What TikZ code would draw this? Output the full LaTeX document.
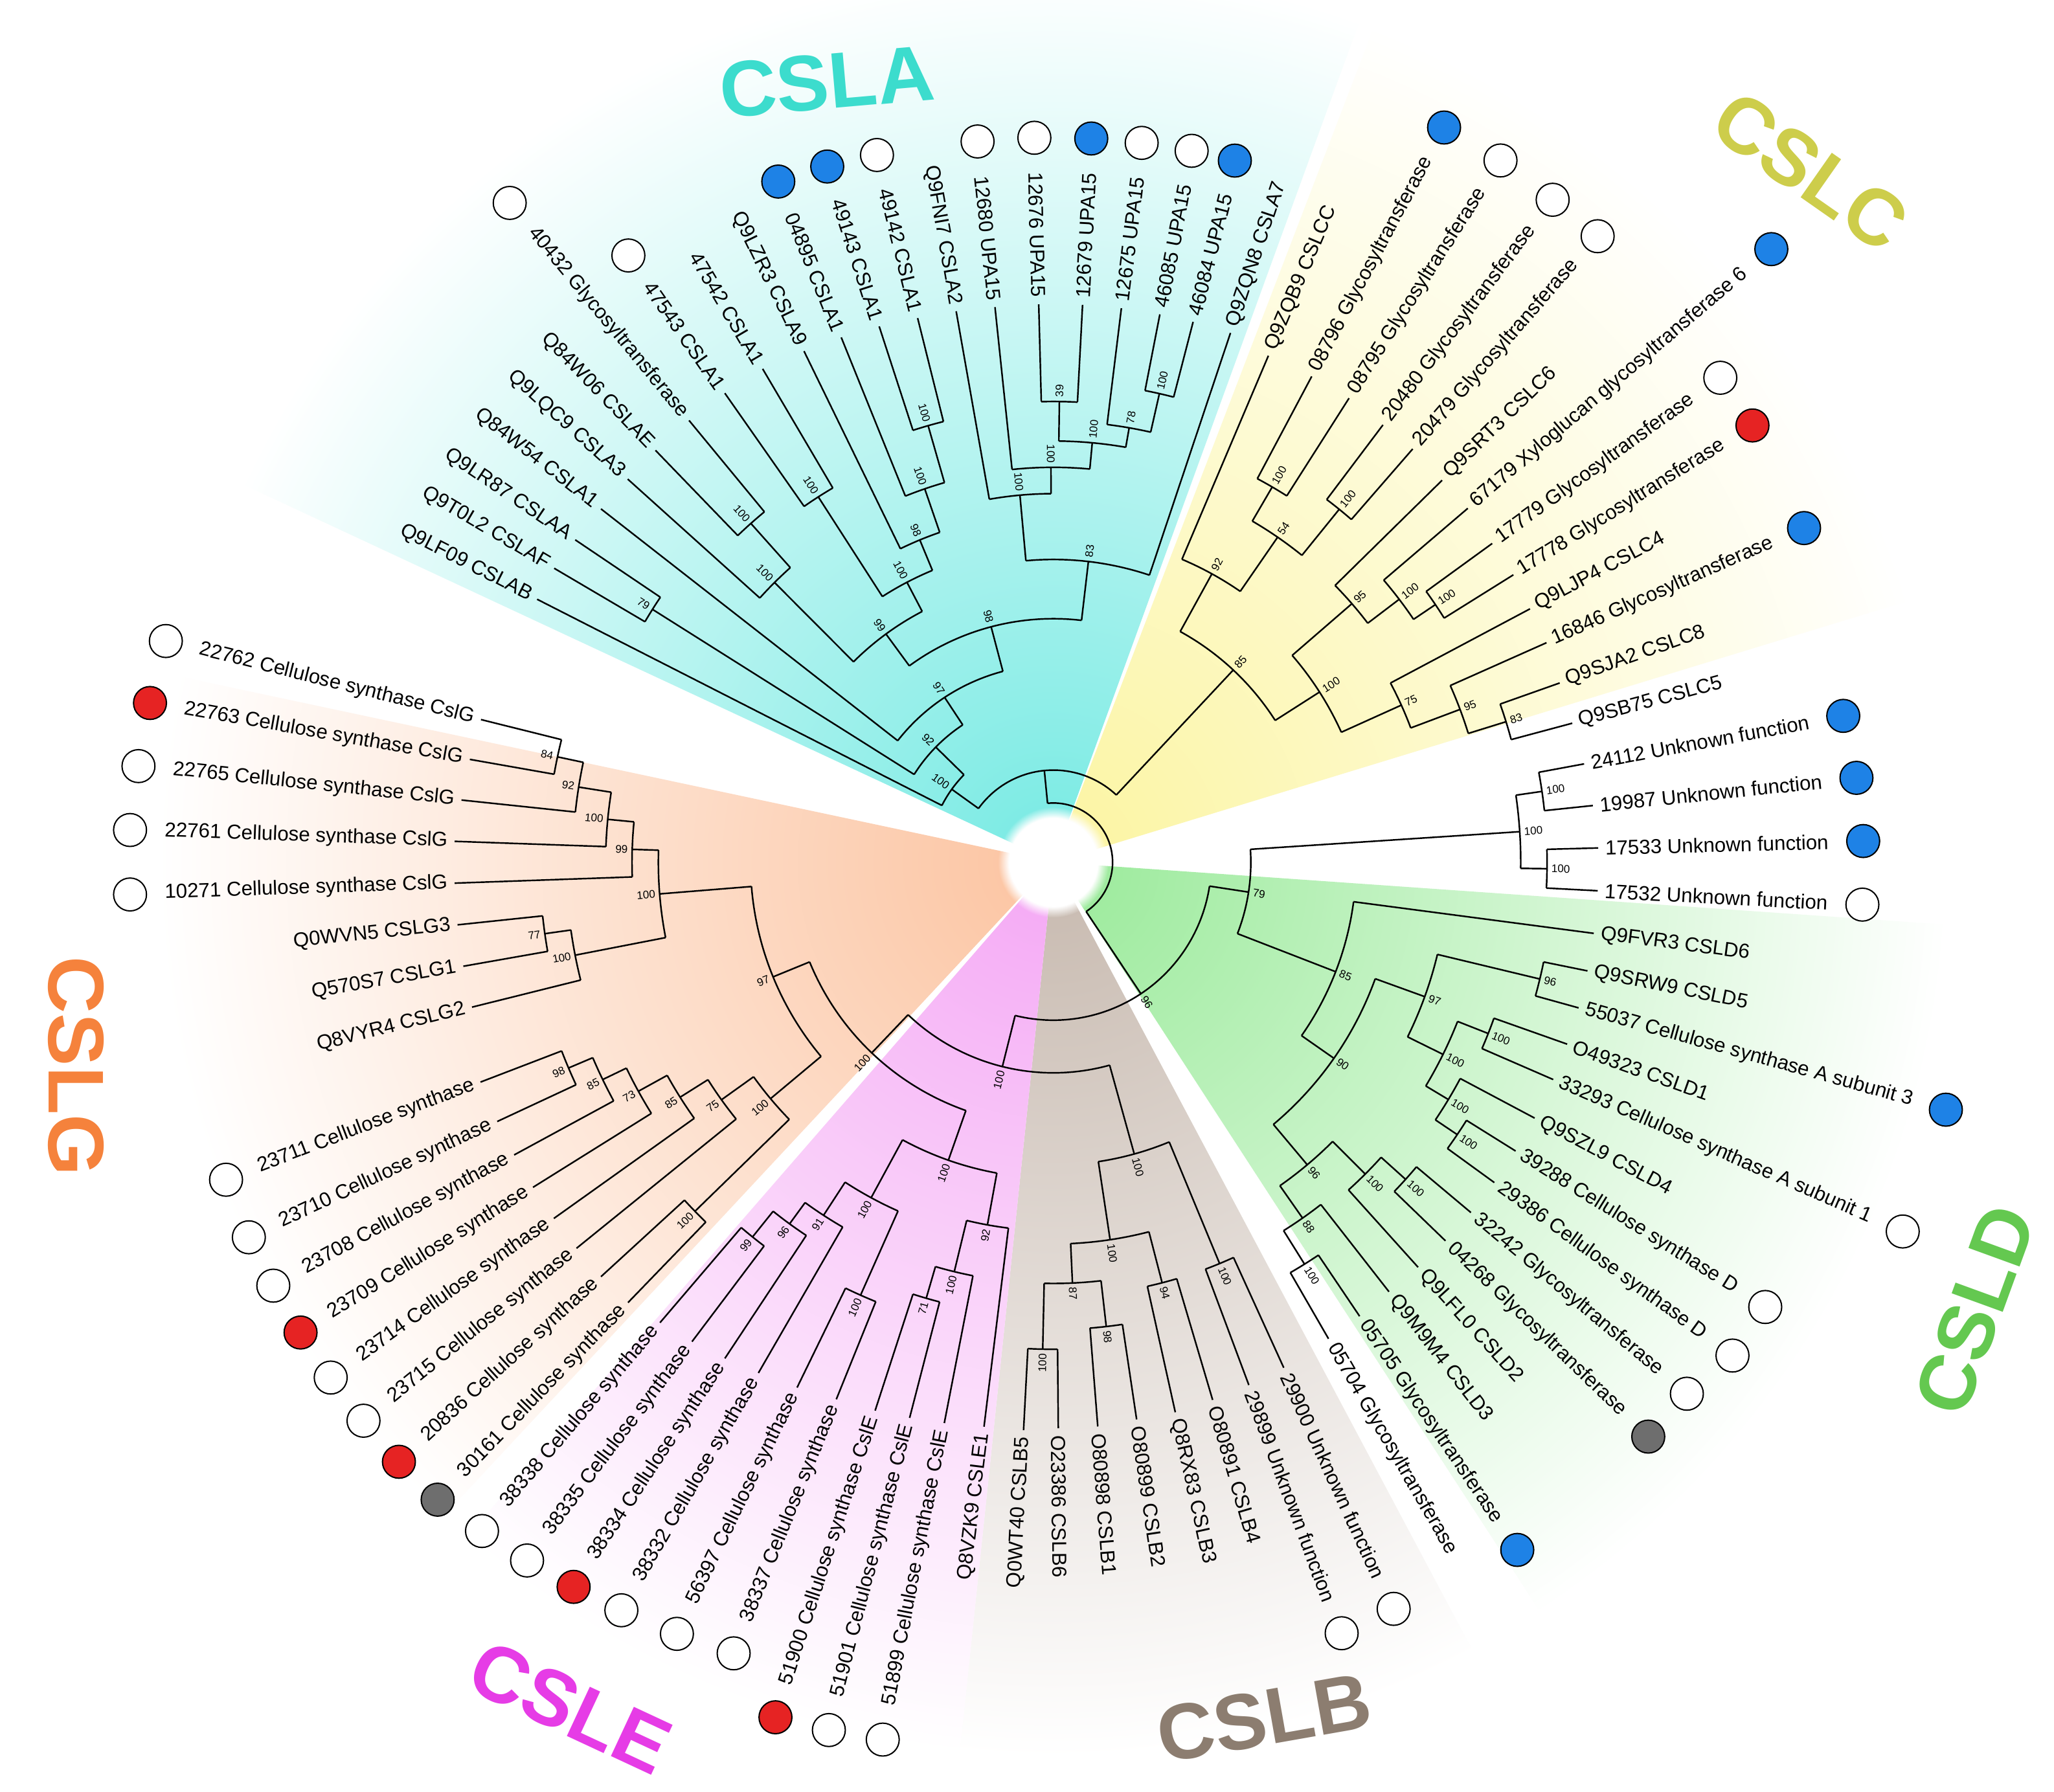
\documentclass[tikz,border=0pt]{standalone}
\usepackage{fontspec}
\setmainfont{Liberation Sans}
\usetikzlibrary{calc,fadings}
\definecolor{cA}{RGB}{60,225,215}
\definecolor{cC}{RGB}{250,240,120}
\definecolor{cD}{RGB}{110,225,110}
\definecolor{cB}{RGB}{175,155,140}
\definecolor{cE}{RGB}{240,130,240}
\definecolor{cG}{RGB}{250,170,120}
\definecolor{tA}{RGB}{60,220,205}
\definecolor{tC}{RGB}{205,205,75}
\definecolor{tD}{RGB}{100,200,80}
\definecolor{tB}{RGB}{140,125,112}
\definecolor{tE}{RGB}{230,60,230}
\definecolor{tG}{RGB}{245,130,60}
\definecolor{mb}{RGB}{30,130,230}
\definecolor{mr}{RGB}{230,35,35}
\definecolor{mg}{RGB}{110,110,110}
\tikzset{br/.style={line width=0.6pt},
 lab/.style={font=\fontsize{7.7}{9}\selectfont, inner sep=1pt},
 bs/.style={font=\fontsize{4.2}{5}\selectfont, inner sep=0.5pt},
 mk/.style={circle, draw=black, line width=0.5pt, minimum size=12.5pt, inner sep=0pt},
 ttl/.style={font=\fontsize{30}{32}\selectfont\bfseries}}
\newcommand\SetRot[1]{\pgfmathsetmacro\mycs{cos(#1)}\ifdim\mycs pt<0pt \pgfmathsetmacro\rr{#1+180}\def\anc{east}\def\anco{west}\else\pgfmathsetmacro\rr{#1}\def\anc{west}\def\anco{east}\fi}
\newcommand\Lf[6]{\draw[br] ({#1}:{#2}) -- ({#1}:{#3});
 \SetRot{#1}
 \node[lab,anchor=\anc,rotate=\rr] (#6) at ({#1}:{#3+3}) {#4};
 \ifx\relax#5\relax\else \node[mk,fill=#5] at ($(#6.\anco)!-12pt!(#6.\anc)$) {};\fi}
\newcommand\N[6]{\draw[br] ({#2}:{#1}) arc[start angle={#2}, end angle={#3}, radius={#1}];
 \draw[br] ({#4}:{#5}) -- ({#4}:{#1});
 \SetRot{#4}
 \node[bs,anchor=\anc,rotate=\rr] at ({#4}:{#1+2}) {#6};}
\newcommand\Wedge[3]{\begin{scope}\clip (0,0) -- ({#1}:900) arc[start angle={#1},end angle={#2},radius=900] -- cycle;
 \shade[inner color=#3!70, outer color=white] (0,0) circle (680);\end{scope}}
\begin{document}
\begin{tikzpicture}[x=0.5pt,y=0.5pt]
\useasboundingbox (0,0) rectangle (1560,-1361);
\fill[white] (0,0) rectangle (1560,-1361);
\begin{scope}[shift={(800,-655)}]
\Wedge{70}{155}{cA}
\Wedge{17}{69}{cC}
\Wedge{-57}{-4}{cD}
\Wedge{-96}{-62}{cB}
\Wedge{-131}{-96}{cE}
\Wedge{168}{227}{cG}
\fill[white, path fading=circle with fuzzy edge 20 percent] (0,0) circle (42);
% root
\draw[br] (95.6:45) arc[start angle=95.6, end angle=-56.35, radius=45];
\N{70}{144.3}{46.9}{95.6}{45}{}
% CSLA
\N{95}{153}{135.6}{144.3}{70}{100}
\N{125}{147.75}{123.4}{135.6}{95}{92}
\N{360}{149.5}{146}{147.75}{125}{79}
\N{150}{142}{104.8}{123.4}{125}{97}
\N{185}{126.25}{83.35}{104.8}{150}{98}
\N{215}{134.9}{117.6}{126.25}{185}{99}
\N{300}{138}{131.75}{134.9}{215}{100}
\N{345}{134}{129.5}{131.75}{300}{100}
\N{240}{122.75}{112.5}{117.6}{215}{100}
\N{330}{125}{120.5}{122.75}{240}{100}
\N{265}{116}{109}{112.5}{240}{98}
\N{300}{112}{106}{109}{265}{100}
\N{345}{108}{104}{106}{300}{100}
\N{230}{95.2}{71.5}{83.35}{185}{83}
\N{280}{100}{90.35}{95.2}{230}{100}
\N{300}{96}{84.7}{90.35}{280}{100}
\N{320}{89.25}{80.1}{84.7}{300}{100}
\N{350}{91.5}{87}{89.25}{320}{39}
\N{335}{83}{77.25}{80.1}{320}{78}
\N{365}{79}{75.5}{77.25}{335}{100}
\Lf{153}{95}{440}{Q9LF09 CSLAB}{}{a1}
\Lf{149.5}{360}{440}{Q9T0L2 CSLAF}{}{a2}
\Lf{146}{360}{438}{Q9LR87 CSLAA}{}{a3}
\Lf{142}{150}{436}{Q84W54 CSLA1}{}{a4}
\Lf{138}{300}{435}{Q9LQC9 CSLA3}{}{a5}
\Lf{134}{345}{435}{Q84W06 CSLAE}{}{a6}
\Lf{129.5}{345}{435}{40432 Glycosyltransferase}{white}{a7}
\Lf{125}{330}{435}{47543 CSLA1}{white}{a8}
\Lf{120.5}{330}{435}{47542 CSLA1}{}{a9}
\Lf{116}{265}{432}{Q9LZR3 CSLA9}{}{a10}
\Lf{112}{300}{430}{04895 CSLA1}{mb}{a11}
\Lf{108}{345}{428}{49143 CSLA1}{mb}{a12}
\Lf{104}{345}{426}{49142 CSLA1}{white}{a13}
\Lf{100}{280}{425}{Q9FNI7 CSLA2}{}{a14}
\Lf{96}{300}{424}{12680 UPA15}{white}{a15}
\Lf{91.5}{350}{424}{12676 UPA15}{white}{a16}
\Lf{87}{350}{424}{12679 UPA15}{mb}{a17}
\Lf{83}{335}{424}{12675 UPA15}{white}{a18}
\Lf{79}{365}{424}{46085 UPA15}{white}{a19}
\Lf{75.5}{365}{424}{46084 UPA15}{mb}{a20}
\Lf{71.5}{230}{424}{Q9ZQN8 CSLA7}{}{a21}
% CSLC
\N{200}{61.2}{32.6}{46.9}{70}{85}
\N{250}{67}{55.4}{61.2}{200}{92}
\N{300}{59.75}{51}{55.4}{250}{54}
\N{330}{62}{57.5}{59.75}{300}{100}
\N{345}{53}{49}{51}{300}{100}
\N{240}{40.9}{24.3}{32.6}{200}{100}
\N{300}{44.5}{37.25}{40.9}{240}{95}
\N{330}{40.5}{34}{37.25}{300}{100}
\N{350}{36}{32}{34}{330}{100}
\N{290}{28}{20.6}{24.3}{240}{75}
\N{330}{24}{17.25}{20.6}{290}{95}
\N{360}{19.5}{15}{17.25}{330}{83}
\Lf{67}{250}{418}{Q9ZQB9 CSLCC}{}{c1}
\Lf{62}{330}{418}{08796 Glycosyltransferase}{mb}{c2}
\Lf{57.5}{330}{418}{08795 Glycosyltransferase}{white}{c3}
\Lf{53}{345}{416}{20480 Glycosyltransferase}{white}{c4}
\Lf{49}{345}{416}{20479 Glycosyltransferase}{white}{c5}
\Lf{44.5}{300}{414}{Q9SRT3 CSLC6}{}{c6}
\Lf{40.5}{330}{414}{67179 Xyloglucan glycosyltransferase 6}{mb}{c7}
\Lf{36}{350}{412}{17779 Glycosyltransferase}{white}{c8}
\Lf{32}{350}{412}{17778 Glycosyltransferase}{mr}{c9}
\Lf{28}{290}{410}{Q9LJP4 CSLC4}{}{c10}
\Lf{24}{330}{410}{16846 Glycosyltransferase}{mb}{c11}
\Lf{19.5}{360}{408}{Q9SJA2 CSLC8}{}{c12}
\Lf{15}{360}{408}{Q9SB75 CSLC5}{}{c13}
% rest
\N{120}{-8.7}{-104}{-56.35}{45}{96}
\N{150}{3.75}{-21.2}{-8.7}{120}{79}
\N{355}{8.25}{-0.75}{3.75}{150}{100}
\N{375}{10.5}{6}{8.25}{355}{100}
\N{375}{1.5}{-3}{-0.75}{355}{100}
\Lf{10.5}{375}{410}{24112 Unknown function}{mb}{u1}
\Lf{6}{375}{412}{19987 Unknown function}{mb}{u2}
\Lf{1.5}{375}{414}{17533 Unknown function}{mb}{u3}
\Lf{-3}{375}{414}{17532 Unknown function}{white}{u4}
% CSLD
\N{230}{-7.5}{-34.95}{-21.2}{150}{85}
\N{260}{-19.9}{-50}{-34.95}{230}{90}
\N{300}{-13.5}{-26.25}{-19.9}{260}{97}
\N{380}{-11.5}{-15.5}{-13.5}{300}{96}
\N{330}{-21.5}{-31}{-26.25}{300}{100}
\N{355}{-19.5}{-23.5}{-21.5}{330}{100}
\N{350}{-28}{-34}{-31}{330}{100}
\N{370}{-32}{-36}{-34}{350}{100}
\N{300}{-45}{-55}{-50}{260}{96}
\N{335}{-42}{-48}{-45}{300}{100}
\N{360}{-40}{-44}{-42}{335}{100}
\N{330}{-52}{-58}{-55}{300}{88}
\N{360}{-56}{-60}{-58}{330}{100}
\Lf{-7.5}{230}{414}{Q9FVR3 CSLD6}{}{d1}
\Lf{-11.5}{380}{414}{Q9SRW9 CSLD5}{}{d2}
\Lf{-15.5}{380}{414}{55037 Cellulose synthase A subunit 3}{mb}{d3}
\Lf{-19.5}{355}{414}{O49323 CSLD1}{}{d4}
\Lf{-23.5}{355}{414}{33293 Cellulose synthase A subunit 1}{white}{d5}
\Lf{-28}{350}{414}{Q9SZL9 CSLD4}{}{d6}
\Lf{-32}{370}{414}{39288 Cellulose synthase D}{white}{d7}
\Lf{-36}{370}{414}{29386 Cellulose synthase D}{white}{d8}
\Lf{-40}{360}{414}{32242 Glycosyltransferase}{white}{d9}
\Lf{-44}{360}{414}{04268 Glycosyltransferase}{mg}{d10}
\Lf{-48}{335}{414}{Q9LFL0 CSLD2}{}{d11}
\Lf{-52}{330}{414}{Q9M9M4 CSLD3}{}{d12}
\Lf{-56}{360}{416}{05705 Glycosyltransferase}{mb}{d13}
\Lf{-60}{360}{418}{05704 Glycosyltransferase}{}{d14}
% CSLB
\N{160}{-74.5}{-133.6}{-104}{120}{100}
\N{230}{-67.5}{-81.45}{-74.5}{160}{100}
\N{330}{-65.5}{-69.5}{-67.5}{230}{100}
\N{290}{-75.5}{-87.4}{-81.45}{230}{100}
\N{330}{-73.5}{-77.5}{-75.5}{290}{94}
\N{320}{-83.5}{-91.25}{-87.4}{290}{87}
\N{355}{-81.5}{-85.5}{-83.5}{320}{98}
\N{370}{-89.5}{-93}{-91.25}{320}{100}
\Lf{-65.5}{330}{422}{29900 Unknown function}{white}{b1}
\Lf{-69.5}{330}{424}{29899 Unknown function}{white}{b2}
\Lf{-73.5}{330}{426}{O80891 CSLB4}{}{b3}
\Lf{-77.5}{330}{428}{Q8RX83 CSLB3}{}{b4}
\Lf{-81.5}{355}{428}{O80899 CSLB2}{}{b5}
\Lf{-85.5}{355}{430}{O80898 CSLB1}{}{b6}
\Lf{-89.5}{370}{430}{O23386 CSLB6}{}{b7}
\Lf{-93}{370}{432}{Q0WT40 CSLB5}{}{b8}
% CSLE
\N{200}{-109.4}{-157.75}{-133.6}{160}{100}
\N{240}{-100.3}{-118.5}{-109.4}{200}{100}
\N{280}{-97}{-103.6}{-100.3}{240}{92}
\N{320}{-101}{-106.25}{-103.6}{280}{100}
\N{345}{-104.5}{-108}{-106.25}{320}{71}
\N{290}{-114}{-123.05}{-118.5}{240}{100}
\N{360}{-112}{-116}{-114}{290}{100}
\N{320}{-120}{-126.1}{-123.05}{290}{91}
\N{340}{-123.5}{-128.75}{-126.1}{320}{96}
\N{365}{-127}{-130.5}{-128.75}{340}{99}
\Lf{-97}{280}{432}{Q8VZK9 CSLE1}{}{e1}
\Lf{-101}{320}{434}{51899 Cellulose synthase CslE}{white}{e2}
\Lf{-104.5}{345}{436}{51901 Cellulose synthase CslE}{white}{e3}
\Lf{-108}{345}{438}{51900 Cellulose synthase CslE}{mr}{e4}
\Lf{-112}{360}{440}{38337 Cellulose synthase}{white}{e5}
\Lf{-116}{360}{444}{56397 Cellulose synthase}{white}{e6}
\Lf{-120}{320}{448}{38332 Cellulose synthase}{white}{e7}
\Lf{-123.5}{340}{452}{38334 Cellulose synthase}{mr}{e8}
\Lf{-127}{365}{456}{38335 Cellulose synthase}{white}{e9}
\Lf{-130.5}{365}{460}{38338 Cellulose synthase}{white}{e10}
% CSLG
\N{230}{-140.1}{-175.4}{-157.75}{200}{97}
\N{280}{-135.75}{-144.4}{-140.1}{230}{100}
\N{380}{-134}{-137.5}{-135.75}{280}{100}
\N{310}{-141}{-147.8}{-144.4}{280}{75}
\N{335}{-144.5}{-151.1}{-147.8}{310}{85}
\N{360}{-148}{-154.25}{-151.1}{335}{73}
\N{380}{-151.5}{-157}{-154.25}{360}{85}
\N{400}{-155}{-159}{-157}{380}{98}
\N{300}{-169}{-181.75}{-175.4}{230}{100}
\N{370}{-166}{-172}{-169}{300}{100}
\N{390}{-170}{-174}{-172}{370}{77}
\N{320}{-178}{-185.5}{-181.75}{300}{99}
\N{340}{-182}{-189}{-185.5}{320}{100}
\N{365}{-186}{-192}{-189}{340}{92}
\N{385}{-190}{-194}{-192}{365}{84}
\Lf{-134}{380}{465}{30161 Cellulose synthase}{mg}{g1}
\Lf{-137.5}{380}{466}{20836 Cellulose synthase}{mr}{g2}
\Lf{-141}{310}{466}{23715 Cellulose synthase}{white}{g3}
\Lf{-144.5}{335}{466}{23714 Cellulose synthase}{white}{g4}
\Lf{-148}{360}{466}{23709 Cellulose synthase}{mr}{g5}
\Lf{-151.5}{380}{466}{23708 Cellulose synthase}{white}{g6}
\Lf{-155}{400}{466}{23710 Cellulose synthase}{white}{g7}
\Lf{-159}{400}{466}{23711 Cellulose synthase}{white}{g8}
\Lf{-166}{370}{455}{Q8VYR4 CSLG2}{}{g9}
\Lf{-170}{390}{455}{Q570S7 CSLG1}{}{g10}
\Lf{-174}{390}{455}{Q0WVN5 CSLG3}{}{g11}
\Lf{-178}{320}{455}{10271 Cellulose synthase CslG}{white}{g12}
\Lf{-182}{340}{455}{22761 Cellulose synthase CslG}{white}{g13}
\Lf{-186}{365}{452}{22765 Cellulose synthase CslG}{white}{g14}
\Lf{-190}{385}{450}{22763 Cellulose synthase CslG}{mr}{g15}
\Lf{-194}{385}{448}{22762 Cellulose synthase CslG}{white}{g16}
\end{scope}
% titles
\node[ttl,text=tA,rotate=5] (tA) at (628,-62) {CSLA};
\node[ttl,text=tC,rotate=-35] (tC) at (1375,-130) {CSLC};
\node[ttl,text=tD,rotate=70] (tD) at (1500,-995) {CSLD};
\node[ttl,text=tB,rotate=10] (tB) at (960,-1305) {CSLB};
\node[ttl,text=tE,rotate=-25] (tE) at (433,-1297) {CSLE};
\node[ttl,text=tG,rotate=-90] (tG) at (58,-810) {CSLG};
\end{tikzpicture}
\end{document}
